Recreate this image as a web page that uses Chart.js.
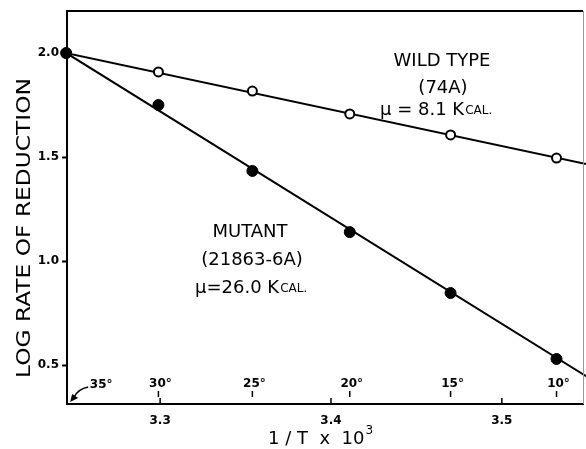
<!DOCTYPE html>
<html>
<head>
<meta charset="utf-8">
<script src="https://cdn.jsdelivr.net/npm/chart.js@4"></script>
<style>
  body { margin: 0; background: #fff; }
  #wrap { width: 586px; height: 449px; position: relative; }
</style>
</head>
<body>
<div id="wrap"><canvas id="arrhenius-chart"></canvas></div>
<script>
// 1/T x 10^3 for each temperature
const tempX = [3.245, 3.299, 3.354, 3.411, 3.470, 3.532];
const tempLabels = ['35°', '30°', '25°', '20°', '15°', '10°'];

// log rate of reduction
const wildType = [2.0, 1.909, 1.817, 1.707, 1.606, 1.495];
const mutant = [2.0, 1.75, 1.433, 1.139, 0.846, 0.529];

// fitted straight lines (end points)
const fitX = [3.245, 3.56];
const wildFit = [2.0, 1.448];
const mutantFit = [2.0, 0.392];

const xTicks = [3.3, 3.4, 3.5];
const yTicks = [0.5, 1.0, 1.5, 2.0];

const FONT = '"DejaVu Sans", "Liberation Sans", sans-serif';

const toPoints = (xs, ys) => xs.map((x, i) => ({x: x, y: ys[i]}));

function line(ctx, x1, y1, x2, y2) {
    ctx.beginPath();
    ctx.moveTo(x1, y1);
    ctx.lineTo(x2, y2);
    ctx.stroke();
}

// "μ = 8.1 K" + small caps "CAL."
function drawEnergy(ctx, big, x, y) {
    ctx.textAlign = 'left';
    ctx.font = '18px ' + FONT;
    ctx.fillText(big, x, y);
    const w = ctx.measureText(big).width;
    ctx.font = '12px ' + FONT;
    ctx.fillText('CAL.', x + w + 1, y + 1);
}

const extras = {
    id: 'extras',
    afterDraw(chart) {
        const ctx = chart.ctx;
        const {left, right, top, bottom} = chart.chartArea;
        const xs = chart.scales.x;

        ctx.save();
        ctx.strokeStyle = '#000';
        ctx.fillStyle = '#000';

        // frame: heavy top, light right
        ctx.lineWidth = 2;
        line(ctx, left - 1, top, right, top);
        ctx.lineWidth = 1;
        ctx.strokeStyle = '#999';
        line(ctx, right + 0.5, top, right + 0.5, bottom);
        ctx.strokeStyle = '#000';

        // inward x ticks
        ctx.lineWidth = 1.5;
        xTicks.forEach(v => {
            const px = xs.getPixelForValue(v);
            line(ctx, px, bottom, px, bottom - 6);
        });

        // temperature marks along the bottom
        ctx.font = 'bold 12px ' + FONT;
        ctx.textAlign = 'center';
        ctx.textBaseline = 'middle';
        tempLabels.forEach((t, i) => {
            const px = xs.getPixelForValue(tempX[i]);
            if (i === 0) {
                ctx.fillText(t, px + 35, 385);
                ctx.lineWidth = 1.5;
                ctx.beginPath();
                ctx.moveTo(px + 22, 387);
                ctx.quadraticCurveTo(px + 12, 389, px + 8, 397);
                ctx.stroke();
                ctx.beginPath();
                ctx.moveTo(px + 4, 402);
                ctx.lineTo(px + 6, 394);
                ctx.lineTo(px + 12, 398);
                ctx.closePath();
                ctx.fill();
            } else {
                ctx.fillText(t, px + 2, 384);
                ctx.lineWidth = 1.5;
                line(ctx, px, 391, px, 397);
            }
        });

        // axis titles
        ctx.textBaseline = 'middle';
        ctx.textAlign = 'center';
        ctx.font = '20px ' + FONT;
        const yTitle = 'LOG RATE OF REDUCTION';
        const tw = ctx.measureText(yTitle).width;
        ctx.save();
        ctx.translate(25, 228);
        ctx.rotate(-Math.PI / 2);
        ctx.scale(300 / tw, 1);
        ctx.fillText(yTitle, 0, 0);
        ctx.restore();

        ctx.font = '18px ' + FONT;
        ctx.textAlign = 'left';
        const xTitle = '1 / T  x  10';
        ctx.fillText(xTitle, 268, 439);
        const xw = ctx.measureText(xTitle).width;
        ctx.font = '12px ' + FONT;
        ctx.fillText('3', 268 + xw + 1, 431);

        // curve labels
        ctx.font = '18px ' + FONT;
        ctx.textAlign = 'center';
        ctx.fillText('WILD TYPE', 442, 61);
        ctx.fillText('(74A)', 443, 88);
        drawEnergy(ctx, 'μ = 8.1 K', 380, 110);

        ctx.textAlign = 'center';
        ctx.font = '18px ' + FONT;
        ctx.fillText('MUTANT', 250, 232);
        ctx.fillText('(21863-6A)', 252, 260);
        drawEnergy(ctx, 'μ=26.0 K', 195, 288);

        ctx.restore();
    }
};

const data = {
    datasets: [
        {
            label: 'Mutant',
            data: toPoints(tempX, mutant),
            showLine: false,
            pointRadius: 5.5,
            pointBackgroundColor: '#000',
            pointBorderColor: '#000',
            pointBorderWidth: 1,
            clip: false
        },
        {
            label: 'Wild type',
            data: toPoints(tempX, wildType),
            showLine: false,
            pointRadius: 4.5,
            pointBackgroundColor: '#fff',
            pointBorderColor: '#000',
            pointBorderWidth: 2,
            clip: false
        },
        {
            label: 'Wild type fit',
            data: toPoints(fitX, wildFit),
            showLine: true,
            pointRadius: 0,
            borderColor: '#000',
            borderWidth: 2,
            clip: {left: 0, top: 0, right: 3, bottom: 0}
        },
        {
            label: 'Mutant fit',
            data: toPoints(fitX, mutantFit),
            showLine: true,
            pointRadius: 0,
            borderColor: '#000',
            borderWidth: 2,
            clip: {left: 0, top: 0, right: 3, bottom: 0}
        }
    ]
};

const config = {
    type: 'scatter',
    data: data,
    options: {
        responsive: true,
        maintainAspectRatio: false,
        animation: false,
        events: [],
        layout: {autoPadding: false, padding: {top: 11, right: 3, left: 0, bottom: 0}},
        plugins: {legend: {display: false}, tooltip: {enabled: false}},
        scales: {
            x: {
                type: 'linear',
                min: 3.2455,
                max: 3.5475,
                afterBuildTicks: scale => { scale.ticks = xTicks.map(v => ({value: v})); },
                afterFit: scale => { scale.height = 45; },
                ticks: {
                    color: '#000',
                    padding: 10,
                    font: {family: FONT, size: 12, weight: 'bold'},
                    callback: v => v.toFixed(1)
                },
                grid: {drawOnChartArea: false, drawTicks: false},
                border: {display: true, color: '#000', width: 2}
            },
            y: {
                min: 0.3125,
                max: 2.202,
                afterBuildTicks: scale => { scale.ticks = yTicks.map(v => ({value: v})); },
                afterFit: scale => { scale.width = 67; },
                ticks: {
                    color: '#000',
                    padding: 3,
                    font: {family: FONT, size: 12, weight: 'bold'},
                    callback: v => v.toFixed(1)
                },
                grid: {drawOnChartArea: false, drawTicks: true, tickLength: 5, tickColor: '#000', tickWidth: 2},
                border: {display: true, color: '#000', width: 2}
            }
        }
    },
    plugins: [extras]
};

const myChart = new Chart(document.getElementById('arrhenius-chart'), config);
</script>
</body>
</html>
